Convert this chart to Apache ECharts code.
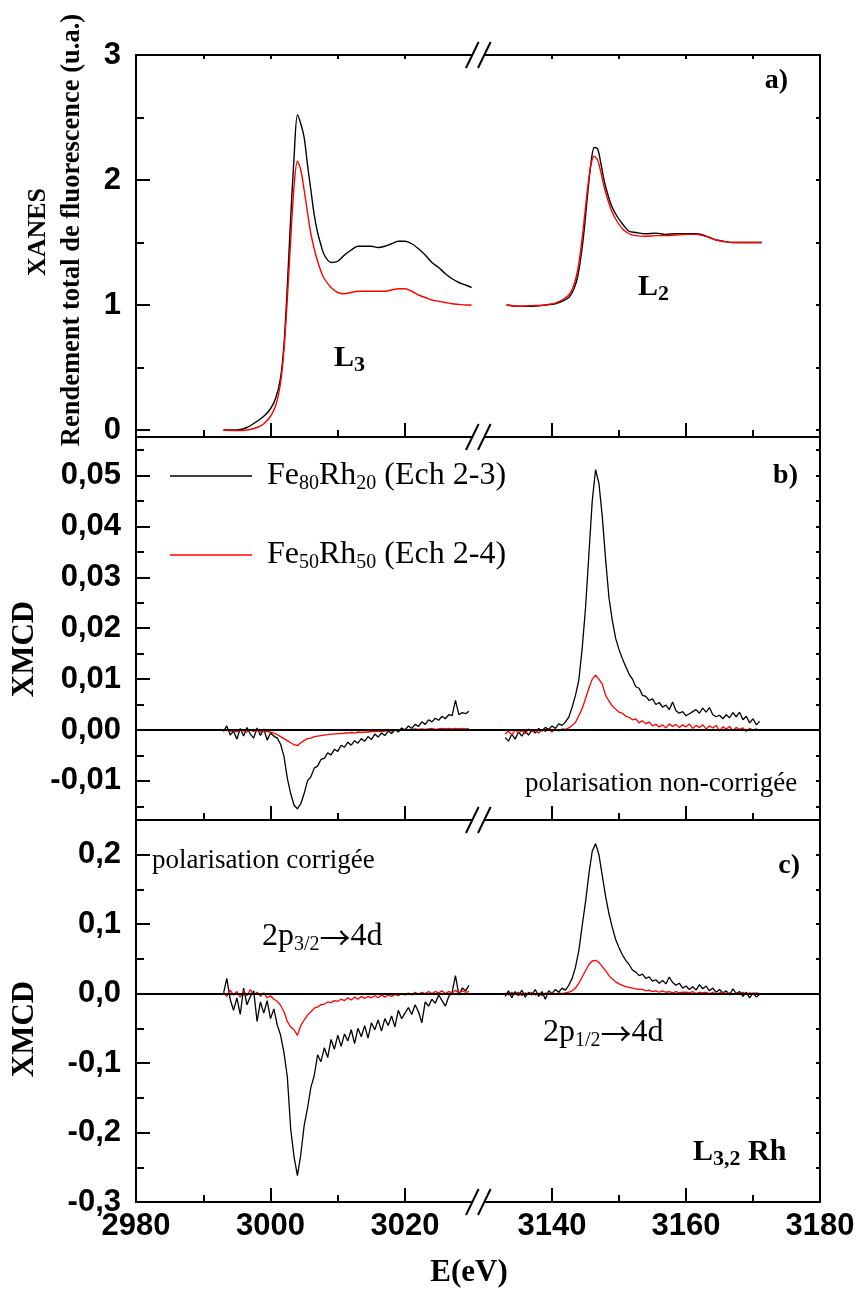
<!DOCTYPE html>
<html><head><meta charset="utf-8">
<script src="https://cdn.jsdelivr.net/npm/echarts@6/dist/echarts.min.js"></script>
<style>html,body{margin:0;padding:0;background:#fff}#c{width:858px;height:1289px}</style>
</head><body><div id="c"></div>
<script>
// ---------- DATA ----------
const N1 = 'Fe80Rh20 (Ech 2-3)', N2 = 'Fe50Rh50 (Ech 2-4)';

// panel a) XANES
const xaL = [2993.0,2995.0,2996.5,2998.0,2999.0,3000.0,3000.8,3001.5,3002.0,3002.5,3003.0,3003.5,3004.0,3004.5,3005.0,3005.5,3006.0,3006.5,3007.0,3007.5,3008.0,3009.0,3010.0,3011.0,3012.0,3013.0,3014.0,3015.0,3016.0,3017.0,3018.0,3019.0,3020.0,3021.0,3022.0,3023.0,3024.0,3025.0,3026.0,3027.0,3028.0,3029.0,3029.9];
const aBlackL = [0.00,0.00,0.02,0.07,0.11,0.17,0.26,0.42,0.68,1.15,1.70,2.18,2.52,2.45,2.34,2.12,1.92,1.72,1.58,1.48,1.40,1.34,1.35,1.40,1.44,1.47,1.47,1.47,1.46,1.47,1.49,1.51,1.51,1.49,1.45,1.40,1.34,1.30,1.25,1.21,1.18,1.16,1.14];
const aRedL = [0.00,-0.005,0.00,0.02,0.05,0.11,0.20,0.38,0.64,1.05,1.52,1.95,2.15,2.08,1.92,1.74,1.57,1.45,1.35,1.27,1.21,1.14,1.10,1.09,1.10,1.11,1.11,1.11,1.11,1.11,1.12,1.13,1.13,1.11,1.08,1.06,1.04,1.03,1.02,1.01,1.005,1.00,1.00];
const xaR = [3133.2,3135.0,3137.0,3139.0,3140.5,3141.5,3142.5,3143.2,3143.8,3144.3,3144.8,3145.3,3145.8,3146.3,3146.8,3147.3,3147.8,3148.4,3149.0,3149.7,3150.5,3151.5,3152.5,3154.0,3155.5,3157.0,3158.5,3160.0,3161.5,3162.5,3163.5,3164.5,3165.5,3167.0,3169.0,3171.3];
const aBlackR = [1.00,0.99,0.99,1.00,1.01,1.03,1.06,1.12,1.22,1.38,1.60,1.88,2.13,2.26,2.25,2.13,1.99,1.87,1.78,1.71,1.65,1.59,1.58,1.57,1.575,1.565,1.57,1.57,1.57,1.56,1.54,1.52,1.51,1.50,1.50,1.50];
const aRedR = [1.00,0.99,0.995,1.00,1.015,1.04,1.08,1.15,1.27,1.45,1.68,1.93,2.12,2.19,2.16,2.06,1.94,1.83,1.74,1.67,1.61,1.57,1.555,1.55,1.555,1.555,1.56,1.565,1.565,1.555,1.54,1.52,1.51,1.50,1.50,1.50];

// panels b) and c) XMCD energies
const xL = [2993,2993.5,2994,2994.5,2995,2995.5,2996,2996.5,2997,2997.5,
 2998,2998.5,2999,2999.5,3000,3000.5,3001,3001.5,3002,3002.5,
 3003,3003.5,3004,3004.5,3005,3005.5,3006,3006.5,3007,3007.5,
 3008,3008.5,3009,3009.5,3010,3010.5,3011,3011.5,3012,3012.5,
 3013,3013.5,3014,3014.5,3015,3015.5,3016,3016.5,3017,3017.5,
 3018,3018.5,3019,3019.5,3020,3020.5,3021,3021.5,3022,3022.5,
 3023,3023.5,3024,3024.5,3025,3025.5,3026,3026.5,3027,3027.5,
 3028,3028.5,3029,3029.5];
const xR = [3133,3133.5,3134,3134.5,3135,3135.5,3136,3136.5,3137,3137.5,
 3138,3138.5,3139,3139.5,3140,3140.5,3141,3141.5,3142,3142.5,
 3143,3143.5,3144,3144.5,3145,3145.5,3146,3146.5,3147,3147.5,
 3148,3148.5,3149,3149.5,3150,3150.5,3151,3151.5,3152,3152.5,
 3153,3153.5,3154,3154.5,3155,3155.5,3156,3156.5,3157,3157.5,
 3158,3158.5,3159,3159.5,3160,3160.5,3161,3161.5,3162,3162.5,
 3163,3163.5,3164,3164.5,3165,3165.5,3166,3166.5,3167,3167.5,
 3168,3168.5,3169,3169.5,3170,3170.5,3171];

// panel b) polarisation non-corrigée
const bBlackL = [-0.0003,0.0008,-0.0010,-0.0002,-0.0018,0.0003,-0.0012,0.0005,-0.0008,-0.0016,
 0.0004,-0.0011,0.0002,-0.0020,-0.0006,-0.0012,-0.0016,-0.0028,-0.0052,-0.0095,
 -0.0125,-0.0148,-0.0155,-0.0145,-0.0125,-0.0100,-0.0092,-0.0075,-0.0071,-0.0058,
 -0.0056,-0.0045,-0.0049,-0.0038,-0.0042,-0.0030,-0.0034,-0.0024,-0.0030,-0.0021,
 -0.0026,-0.0017,-0.0022,-0.0013,-0.0019,-0.0008,-0.0014,-0.0006,-0.0011,-0.0002,
 -0.0007,0.0001,-0.0004,0.0004,0.0000,0.0008,0.0003,0.0011,0.0007,0.0016,
 0.0011,0.0020,0.0016,0.0023,0.0019,0.0027,0.0022,0.0030,0.0028,0.0058,
 0.0030,0.0034,0.0032,0.0037];
const bRedL = [-0.0002,0.0001,-0.0003,-0.0001,-0.0004,0.0000,-0.0002,-0.0004,0.0000,-0.0003,
 -0.0001,-0.0004,-0.0002,-0.0003,-0.0004,-0.0006,-0.0009,-0.0013,-0.0017,-0.0021,
 -0.0025,-0.0029,-0.0031,-0.0025,-0.0021,-0.0017,-0.0016,-0.0013,-0.0012,-0.0011,
 -0.0010,-0.0009,-0.0008,-0.0008,-0.0007,-0.0007,-0.0006,-0.0006,-0.0005,-0.0006,
 -0.0004,-0.0005,-0.0004,-0.0004,-0.0003,-0.0003,-0.0002,-0.0003,-0.0002,-0.0001,
 -0.0002,0.0000,-0.0001,0.0000,0.0001,0.0000,0.0001,0.0002,0.0001,0.0002,
 0.0001,0.0002,0.0003,0.0001,0.0002,0.0003,0.0002,0.0003,0.0002,0.0003,
 0.0002,0.0003,0.0002,0.0003];
const bBlackR = [-0.0015,-0.0022,-0.0008,-0.0018,-0.0004,-0.0012,-0.0002,-0.0010,0.0001,-0.0006,
 0.0003,-0.0002,0.0005,0.0001,0.0008,0.0003,0.0012,0.0009,0.0016,0.0025,
 0.0045,0.0068,0.0098,0.0160,0.0240,0.0345,0.0450,0.0512,0.0485,0.0420,
 0.0335,0.0260,0.0215,0.0180,0.0158,0.0140,0.0125,0.0110,0.0100,0.0085,
 0.0082,0.0068,0.0066,0.0058,0.0061,0.0050,0.0054,0.0045,0.0049,0.0040,
 0.0055,0.0038,0.0033,0.0036,0.0028,0.0032,0.0036,0.0040,0.0033,0.0043,
 0.0035,0.0044,0.0030,0.0026,0.0029,0.0022,0.0030,0.0024,0.0034,0.0026,
 0.0035,0.0020,0.0027,0.0014,0.0022,0.0010,0.0017];
const bRedR = [-0.0008,-0.0002,-0.0010,0.0001,-0.0006,-0.0001,-0.0007,0.0002,-0.0004,0.0000,
 -0.0006,0.0001,-0.0003,0.0002,-0.0004,0.0001,-0.0002,0.0002,0.0001,0.0004,
 0.0009,0.0015,0.0028,0.0042,0.0062,0.0082,0.0100,0.0108,0.0100,0.0090,
 0.0068,0.0057,0.0047,0.0041,0.0035,0.0033,0.0027,0.0025,0.0020,0.0022,
 0.0014,0.0018,0.0012,0.0016,0.0008,0.0011,0.0006,0.0010,0.0004,0.0012,
 0.0007,0.0011,0.0005,0.0010,0.0006,0.0012,0.0003,0.0009,0.0005,0.0010,
 0.0002,0.0008,0.0004,0.0009,-0.0002,0.0006,0.0002,0.0007,-0.0001,0.0005,
 0.0001,0.0004,-0.0003,0.0003,0.0000,0.0002,-0.0001];

// panel c) polarisation corrigée
const cBlackL = [0.000,0.022,-0.008,-0.024,-0.006,-0.030,0.008,-0.016,-0.004,0.004,
 -0.040,-0.012,-0.028,-0.010,-0.036,-0.022,-0.045,-0.060,-0.085,-0.120,
 -0.195,-0.235,-0.262,-0.232,-0.190,-0.165,-0.135,-0.118,-0.088,-0.098,
 -0.078,-0.092,-0.066,-0.080,-0.060,-0.076,-0.058,-0.068,-0.052,-0.072,
 -0.050,-0.062,-0.046,-0.064,-0.042,-0.052,-0.038,-0.054,-0.036,-0.046,
 -0.032,-0.048,-0.024,-0.036,-0.028,-0.020,-0.030,-0.016,-0.026,-0.042,
 -0.012,-0.018,-0.008,-0.014,-0.002,-0.010,-0.018,-0.004,0.002,0.026,
 -0.002,0.008,0.004,0.012];
const cRedL = [0.002,-0.004,0.005,-0.002,0.003,-0.005,0.004,-0.003,0.006,-0.002,
 0.002,-0.004,0.001,-0.006,-0.003,-0.008,-0.011,-0.017,-0.026,-0.040,
 -0.048,-0.052,-0.060,-0.046,-0.038,-0.031,-0.026,-0.021,-0.019,-0.016,
 -0.015,-0.012,-0.013,-0.010,-0.011,-0.008,-0.010,-0.006,-0.009,-0.005,
 -0.008,-0.004,-0.007,-0.004,-0.006,-0.003,-0.006,-0.002,-0.005,-0.002,
 -0.004,-0.001,-0.003,0.000,-0.002,0.001,-0.002,0.002,-0.001,0.002,
 0.000,0.003,0.000,0.003,0.001,0.004,0.000,0.003,0.001,0.005,
 0.001,0.004,0.002,0.003];
const cBlackR = [-0.004,0.004,-0.006,0.003,-0.003,0.005,-0.005,0.002,-0.002,0.006,
 -0.004,0.003,-0.008,0.004,0.000,0.006,0.002,0.008,0.005,0.012,
 0.022,0.038,0.062,0.098,0.132,0.172,0.205,0.216,0.200,0.170,
 0.140,0.115,0.095,0.078,0.066,0.056,0.048,0.042,0.034,0.031,
 0.026,0.028,0.022,0.024,0.018,0.020,0.015,0.019,0.014,0.024,
 0.016,0.012,0.015,0.008,0.011,0.006,0.010,0.005,0.013,0.007,
 0.011,0.004,0.008,0.002,0.006,0.001,0.004,-0.002,0.007,0.000,
 0.003,-0.004,0.002,-0.006,0.001,-0.005,-0.001];
const cRedR = [0.001,-0.002,0.002,-0.001,0.002,-0.003,0.001,-0.001,0.002,-0.002,
 0.001,-0.003,0.001,-0.001,0.002,-0.001,0.001,0.000,0.001,0.002,
 0.004,0.008,0.015,0.024,0.033,0.042,0.047,0.048,0.045,0.039,
 0.033,0.026,0.021,0.017,0.014,0.012,0.010,0.009,0.008,0.007,
 0.006,0.006,0.004,0.005,0.003,0.004,0.002,0.004,0.002,0.003,
 0.001,0.003,0.001,0.002,0.002,0.001,0.003,0.000,0.002,0.001,
 0.002,0.000,0.002,-0.001,0.001,0.002,0.000,0.001,-0.001,0.001,
 0.000,0.002,-0.001,0.001,0.000,0.001,0.000];

// tick values
const xTickMajL = [2980,3000,3020], xTickMinL = [2990,3010], xTickTopL = [2990,3000,3010,3020];
const xTickMajR = [3140,3160,3180], xTickMinR = [3150,3170], xTickTopR = [3140,3150,3160,3170];
const aTickMaj = [0,1,2,3], aTickMin = [0.5,1.5,2.5], aTickAll = [0,0.5,1,1.5,2,2.5,3];
const bTickMaj = [-0.01,0,0.01,0.02,0.03,0.04,0.05];
const bTickMin = [-0.015,-0.005,0.005,0.015,0.025,0.035,0.045,0.055];
const bTickAll = [-0.015,-0.01,-0.005,0,0.005,0.01,0.015,0.02,0.025,0.03,0.035,0.04,0.045,0.05,0.055];
const cTickMaj = [-0.3,-0.2,-0.1,0,0.1,0.2];
const cTickMin = [-0.25,-0.15,-0.05,0.05,0.15];
const cTickAll = [-0.25,-0.2,-0.15,-0.1,-0.05,0,0.05,0.1,0.15,0.2];

// ---------- LAYOUT ----------
const SERIF = "'Liberation Serif','Times New Roman',serif";
const SANS = "'Liberation Sans',Arial,sans-serif";
const ARROWF = "'Noto Sans CJK JP','DejaVu Sans',sans-serif";
const sides = [
  {left:136, width:341, min:2980, max:3030.7, maj:xTickMajL, mnr:xTickMinL, top:xTickTopL},
  {left:477, width:343, min:3128.8, max:3180, maj:xTickMajR, mnr:xTickMinR, top:xTickTopR}
];
const panels = [
  {top:55, h:382, ymin:-0.056, ymax:3, maj:aTickMaj, mnr:aTickMin, all:aTickAll, dec:0, topAxis:true,
   xs:[xaL,xaR], blk:[aBlackL,aBlackR], red:[aRedL,aRedR], smooth:0.3, zero:false, lw:1.4},
  {top:437, h:383, ymin:-0.0177, ymax:0.0576, maj:bTickMaj, mnr:bTickMin, all:bTickAll, dec:2, topAxis:false,
   xs:[xL,xR], blk:[bBlackL,bBlackR], red:[bRedL,bRedR], smooth:false, zero:true, lw:1.3},
  {top:820, h:382, ymin:-0.3, ymax:0.25, maj:cTickMaj, mnr:cTickMin, all:cTickAll, dec:1, topAxis:false,
   xs:[xL,xR], blk:[cBlackL,cBlackR], red:[cRedL,cRedR], smooth:false, zero:true, lw:1.3}
];

function mkAxis(o) {
  return {
    type:'value', gridIndex:o.g, position:o.pos, min:o.min, max:o.max,
    splitLine:{show:false},
    axisLine:{show:!!o.line, onZero:false, lineStyle:{color:'#000', width:2}},
    axisTick:{show:true, inside:true, length:o.len, customValues:o.ticks, lineStyle:{color:'#000', width:2}},
    axisLabel:{show:!!o.labels, customValues:o.labels || undefined, margin:o.margin || 8,
      color:'#000', fontSize:31, fontWeight:'bold', fontFamily:SANS,
      formatter: o.fmt}
  };
}

const grid = [], xAxis = [], yAxis = [], series = [];
panels.forEach((P, p) => {
  sides.forEach((S, s) => {
    const g = grid.length;
    grid.push({left:S.left, top:P.top, width:S.width, height:P.h});
    const xi = xAxis.length;
    xAxis.push(mkAxis({g, pos:'bottom', min:S.min, max:S.max, line:true, ticks:S.maj, len:14,
      labels: p === 2 ? S.maj : null, margin:9, fmt: v => String(v)}));
    xAxis.push(mkAxis({g, pos:'bottom', min:S.min, max:S.max, line:false, ticks:S.mnr, len:7}));
    if (P.topAxis) xAxis.push(mkAxis({g, pos:'top', min:S.min, max:S.max, line:true, ticks:S.top, len:4}));
    const yi = yAxis.length;
    if (s === 0) {
      yAxis.push(mkAxis({g, pos:'left', min:P.ymin, max:P.ymax, line:true, ticks:P.maj, len:14,
        labels:P.maj, margin:15, fmt: v => Number(v).toFixed(P.dec).replace('.', ',')}));
      yAxis.push(mkAxis({g, pos:'left', min:P.ymin, max:P.ymax, line:false, ticks:P.mnr, len:8}));
    } else {
      yAxis.push(mkAxis({g, pos:'right', min:P.ymin, max:P.ymax, line:true, ticks:P.all, len:4}));
    }
    const xs = P.xs[s];
    const blk = {
      type:'line', name:N1, xAxisIndex:xi, yAxisIndex:yi, silent:true,
      data: xs.map((x, i) => [x, P.blk[s][i]]),
      symbol:'none', smooth:P.smooth, color:'#000',
      lineStyle:{color:'#000', width:P.lw}, z:2
    };
    if (P.zero) blk.markLine = {silent:true, symbol:['none','none'], label:{show:false},
      lineStyle:{color:'#000', width:2, type:'solid'}, data:[{yAxis:0}]};
    series.push(blk);
    series.push({
      type:'line', name:N2, xAxisIndex:xi, yAxisIndex:yi, silent:true,
      data: xs.map((x, i) => [x, P.red[s][i]]),
      symbol:'none', smooth:P.smooth, color:'#ff0000',
      lineStyle:{color:'#ff0000', width:P.lw}, z:3
    });
  });
});

// ---------- TEXT / DECORATIONS ----------
function txt(x, y, text, st, extra) {
  return Object.assign({type:'text', x, y, z:100, silent:true,
    style:Object.assign({text, fill:'#000', align:'left', verticalAlign:'middle'}, st)}, extra || {});
}
const richReg = {
  m:{fontSize:32, fontFamily:SERIF, fill:'#000', color:'#000'},
  a:{fontSize:31, fontFamily:ARROWF, fill:'#000', color:'#000'},
  s:{fontSize:20, fontFamily:SERIF, fill:'#000', color:'#000', padding:[16,0,0,0]}
};
const richBold = {
  m:{fontSize:30, fontWeight:'bold', fontFamily:SERIF, fill:'#000', color:'#000'},
  s:{fontSize:22, fontWeight:'bold', fontFamily:SERIF, fill:'#000', color:'#000', padding:[15,0,0,0]}
};
const graphic = [
  txt(38, 232, 'XANES', {fontSize:26, fontWeight:'bold', fontFamily:SERIF, align:'center'}, {rotation:Math.PI/2}),
  txt(72, 230, 'Rendement total de fluorescence (u.a.)', {fontSize:26.5, fontWeight:'bold', fontFamily:SERIF, align:'center'}, {rotation:Math.PI/2}),
  txt(25, 649, 'XMCD', {fontSize:31, fontWeight:'bold', fontFamily:SERIF, align:'center'}, {rotation:Math.PI/2}),
  txt(25, 1029, 'XMCD', {fontSize:31, fontWeight:'bold', fontFamily:SERIF, align:'center'}, {rotation:Math.PI/2}),
  txt(469, 1273, 'E(eV)', {fontSize:31, fontWeight:'bold', fontFamily:SERIF, align:'center'}),
  txt(788, 81, 'a)', {fontSize:28, fontWeight:'bold', fontFamily:SERIF, align:'right'}),
  txt(798, 476, 'b)', {fontSize:28, fontWeight:'bold', fontFamily:SERIF, align:'right'}),
  txt(800, 866, 'c)', {fontSize:28, fontWeight:'bold', fontFamily:SERIF, align:'right'}),
  txt(334, 358, '{m|L}{s|3}', {rich:richBold}),
  txt(638, 287, '{m|L}{s|2}', {rich:richBold}),
  txt(525, 784, 'polarisation non-corrigée', {fontSize:27, fontFamily:SERIF}),
  txt(152, 861, 'polarisation corrigée', {fontSize:27, fontFamily:SERIF}),
  txt(262, 937, '{m|2p}{s|3/2}{a|→}{m|4d}', {rich:richReg}),
  txt(543, 1033, '{m|2p}{s|1/2}{a|→}{m|4d}', {rich:richReg}),
  txt(693, 1152, '{m|L}{s|3,2}{m| Rh}', {rich:richBold})
];
// axis break marks "//"
[55, 437, 820, 1202].forEach(y => {
  graphic.push({type:'polygon', z:90, silent:true,
    shape:{points:[[466, y+13],[478.6, y-13],[490.6, y-13],[478, y+13]]}, style:{fill:'#fff'}});
  graphic.push({type:'line', z:91, silent:true, shape:{x1:466, y1:y+13, x2:478.6, y2:y-13}, style:{stroke:'#000', lineWidth:2}});
  graphic.push({type:'line', z:91, silent:true, shape:{x1:478, y1:y+13, x2:490.6, y2:y-13}, style:{stroke:'#000', lineWidth:2}});
});

const legRich = {
  f:{fontSize:32, fontFamily:SERIF, color:'#000', padding:[0,0,0,10]},
  m:{fontSize:32, fontFamily:SERIF, color:'#000'},
  s:{fontSize:20, fontFamily:SERIF, color:'#000', padding:[16,0,0,0]}
};
const legendText = {};
legendText[N1] = '{f|Fe}{s|80}{m|Rh}{s|20}{m| (Ech 2-3)}';
legendText[N2] = '{f|Fe}{s|50}{m|Rh}{s|50}{m| (Ech 2-4)}';
const legend = [N1, N2].map((n, i) => ({
  data:[n], left:170, top: i === 0 ? 460 : 539, orient:'vertical', padding:0,
  icon:'rect', itemWidth:82, itemHeight:1.6, selectedMode:false,
  formatter: name => legendText[name], textStyle:{rich:legRich}
}));

const chart = echarts.init(document.getElementById('c'), null, {renderer:'canvas'});
chart.setOption({
  backgroundColor:'#fff', animation:false,
  grid, xAxis, yAxis, series, legend, graphic
});
</script></body></html>
